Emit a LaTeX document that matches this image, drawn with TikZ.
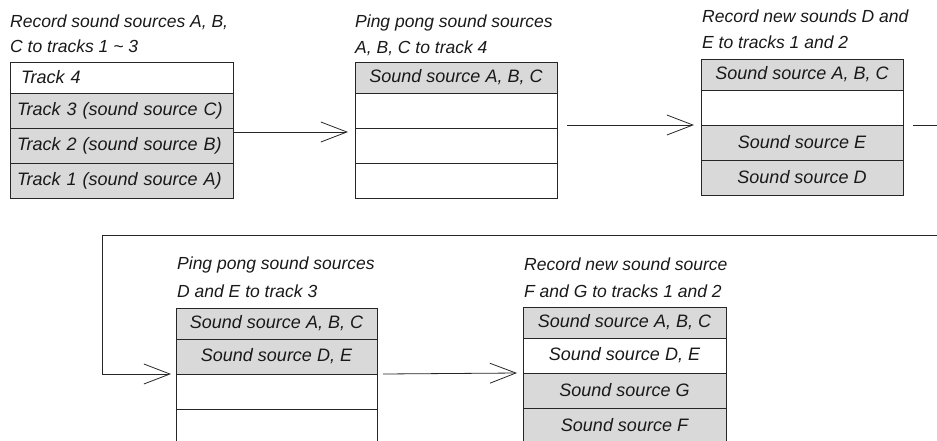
\documentclass[tikz,border=0pt]{standalone}
\usepackage{fontspec}
\setmainfont{Liberation Sans}
\usetikzlibrary{positioning,arrows.meta}

\tikzset{
  track/.style={draw=black!85, line width=0.8pt, minimum height=35pt, inner sep=0pt, outer sep=0pt,
    font=\fontsize{18}{20}\selectfont\itshape, text=black!90},
  toprow/.style={minimum height=31pt},
  used/.style={track, fill=black!15},
  free/.style={track, fill=white},
  caption/.style={anchor=base west, inner sep=0pt, font=\fontsize{17.5}{20}\selectfont\itshape, text=black!90},
  move/.style={draw=black!85, line width=0.8pt, -{Straight Barb[length=26pt,width=20pt]}}
}

\begin{document}
\begin{tikzpicture}[x=1pt,y=-1pt]
	\useasboundingbox (0,0) rectangle (937,440);
	\clip (0,0) rectangle (937,440);
	
	% step 1
	\node[caption] (cap1a) at (10,27) {Record sound sources A, B,};
	\node[caption] (cap1b) at (10,52) {C to tracks 1 \textasciitilde{} 3};
	\node[free, toprow, minimum width=223pt, text width=209pt, align=left, anchor=north west] (b1r1) at (10,62) {\hspace*{4pt}Track 4};
	\node[used, minimum width=223pt, text width=209pt, align=left, below=0pt of b1r1] (b1r2) {Track 3 (sound source C)};
	\node[used, minimum width=223pt, text width=209pt, align=left, below=0pt of b1r2] (b1r3) {Track 2 (sound source B)};
	\node[used, minimum width=223pt, text width=209pt, align=left, below=0pt of b1r3] (b1r4) {Track 1 (sound source A)};
	
	% step 2
	\node[caption] (cap2a) at (355,27) {Ping pong sound sources};
	\node[caption] (cap2b) at (355,53) {A, B, C to track 4};
	\node[used, toprow, minimum width=202pt, anchor=north west] (b2r1) at (355,62) {Sound source A, B, C};
	\node[free, minimum width=202pt, below=0pt of b2r1] (b2r2) {};
	\node[free, minimum width=202pt, below=0pt of b2r2] (b2r3) {};
	\node[free, minimum width=202pt, below=0pt of b2r3] (b2r4) {};
	
	% step 3
	\node[caption] (cap3a) at (702,22) {Record new sounds D and};
	\node[caption] (cap3b) at (702,48) {E to tracks 1 and 2};
	\node[used, toprow, minimum width=202pt, anchor=north west] (b3r1) at (701,59) {Sound source A, B, C};
	\node[free, minimum width=202pt, below=0pt of b3r1] (b3r2) {};
	\node[used, minimum width=202pt, below=0pt of b3r2] (b3r3) {Sound source E};
	\node[used, minimum width=202pt, below=0pt of b3r3] (b3r4) {Sound source D};
	
	% step 4
	\node[caption] (cap4a) at (177,269) {Ping pong sound sources};
	\node[caption] (cap4b) at (177,297) {D and E to track 3};
	\node[used, toprow, minimum width=201pt, anchor=north west] (b4r1) at (176,308) {Sound source A, B, C};
	\node[used, minimum width=201pt, below=0pt of b4r1] (b4r2) {Sound source D, E};
	\node[free, minimum width=201pt, below=0pt of b4r2] (b4r3) {};
	\node[free, minimum width=201pt, below=0pt of b4r3] (b4r4) {};
	
	% step 5
	\node[caption] (cap5a) at (524,270) {Record new sound source};
	\node[caption] (cap5b) at (524,297) {F and G to tracks 1 and 2};
	\node[used, toprow, minimum width=203pt, anchor=north west] (b5r1) at (523,307) {Sound source A, B, C};
	\node[free, minimum width=203pt, below=0pt of b5r1] (b5r2) {Sound source D, E};
	\node[used, minimum width=203pt, below=0pt of b5r2] (b5r3) {Sound source G};
	\node[used, minimum width=203pt, below=0pt of b5r3] (b5r4) {Sound source F};
	
	% arrows
	\coordinate (outR) at (960,235);
	\coordinate (bendL) at (102,235);
	\draw[move] ([yshift=-4pt]b1r3.north east) -- ([xshift=-7pt,yshift=-4pt]b2r3.north west);
	\draw[move] ([xshift=10pt]b2r3.east |- b3r3.north) -- ([xshift=-7pt]b3r3.north west);
	\draw[move] ([xshift=10pt]b3r3.north east) -- (b3r3.north east -| outR) -- (outR) -- (bendL)
		-- (bendL |- b4r3.north) -- ([xshift=-5pt]b4r3.north west);
	\draw[move] ([xshift=6pt]b4r3.north east) -- ([xshift=-6pt]b5r3.north west);
\end{tikzpicture}
\end{document}
